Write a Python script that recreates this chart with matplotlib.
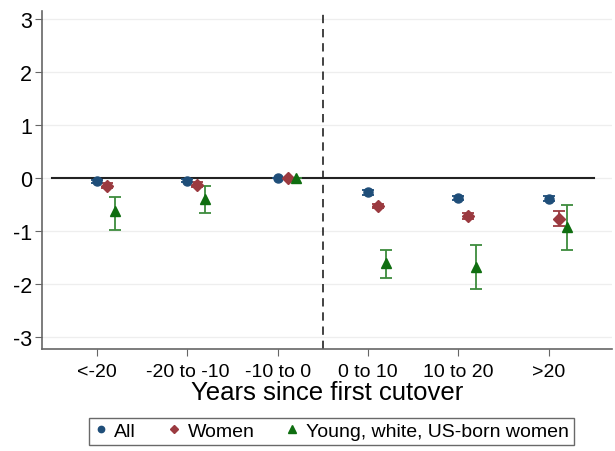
import numpy as np
import matplotlib.pyplot as plt

plt.rcParams['font.family'] = ['Liberation Sans', 'DejaVu Sans']
plt.rcParams['axes.unicode_minus'] = False

# event-study style estimates
groups = ['<-20', '-20 to -10', '-10 to 0', '0 to 10', '10 to 20', '>20']

all_est = [-0.06, -0.05, 0.0, -0.27, -0.37, -0.39]
all_lo = [-0.09, -0.08, 0.0, -0.31, -0.41, -0.44]
all_hi = [-0.03, -0.02, 0.0, -0.23, -0.33, -0.34]

women_est = [-0.14, -0.12, 0.0, -0.52, -0.71, -0.77]
women_lo = [-0.18, -0.16, 0.0, -0.56, -0.77, -0.90]
women_hi = [-0.10, -0.08, 0.0, -0.48, -0.65, -0.62]

young_est = [-0.62, -0.40, 0.0, -1.60, -1.68, -0.93]
young_lo = [-0.97, -0.66, 0.0, -1.88, -2.10, -1.36]
young_hi = [-0.35, -0.15, 0.0, -1.35, -1.27, -0.51]

blue = '#1f4e79'
maroon = '#9b3a40'
green = '#0f6e10'
green_ci = '#3d8b3d'

fig = plt.figure(figsize=(6.15, 4.52), dpi=100)
ax = fig.add_axes([0.068, 0.226, 0.927, 0.747])

x = np.arange(1, len(groups) + 1)


def draw(xs, est, lo, hi, color, ci_color, marker, ms, label):
    est = np.array(est)
    err = [est - np.array(lo), np.array(hi) - est]
    ax.errorbar(xs, est, yerr=err, fmt='none', ecolor=ci_color,
                elinewidth=1.3, capsize=4.5, capthick=1.3, zorder=3)
    ax.plot(xs, est, linestyle='none', marker=marker, ms=ms, color=color,
            label=label, zorder=4)


draw(x, all_est, all_lo, all_hi, blue, blue, 'o', 6.5, 'All')
draw(x + 0.11, women_est, women_lo, women_hi, maroon, maroon, 'D', 6, 'Women')
draw(x + 0.2, young_est, young_lo, young_hi, green, green_ci, '^', 7.5,
     'Young, white, US-born women')

ax.plot([0.5, 6.5], [0, 0], color='#222222', lw=1.5, zorder=2)
ax.axvline(3.5, color='#222222', lw=1.2, ls=(0, (5, 3.5)), zorder=2)

ax.set_xlim(0.39, 6.7)
ax.set_ylim(-3.22, 3.15)
ax.set_yticks([-3, -2, -1, 0, 1, 2, 3])
ax.set_xticks(x)
ax.set_xticklabels(groups, fontsize=14)
ax.tick_params(axis='y', labelsize=15.5, length=5, color='#666666', pad=2)
ax.tick_params(axis='x', length=5, color='#666666', pad=5)
ax.grid(axis='y', color='#eeeeee', lw=0.9)
ax.set_axisbelow(True)
for s in ['top', 'right']:
    ax.spines[s].set_visible(False)
for s in ['left', 'bottom']:
    ax.spines[s].set_color('#666666')
    ax.spines[s].set_linewidth(1.2)

ax.set_xlabel('Years since first cutover', fontsize=18.5, labelpad=0)

leg = fig.legend(loc='lower center', bbox_to_anchor=(0.539, 0.005), ncol=3,
                 fontsize=14, frameon=True, fancybox=False, edgecolor='#444444',
                 handletextpad=0.35, columnspacing=1.6, handlelength=0.7,
                 markerscale=0.7, borderpad=0.25, borderaxespad=0.2)
leg.get_frame().set_linewidth(1.0)

fig.savefig('out.png', dpi=100)
